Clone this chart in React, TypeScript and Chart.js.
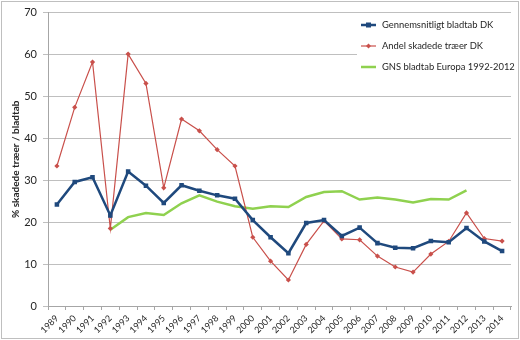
import React, { useEffect, useRef } from "react";
import { Chart, registerables } from "chart.js";

Chart.register(...registerables);

const years = ["1989","1990","1991","1992","1993","1994","1995","1996","1997","1998","1999","2000","2001","2002","2003","2004","2005","2006","2007","2008","2009","2010","2011","2012","2013","2014"];
const gennemsnitligtDK = [24.2,29.6,30.7,21.6,32.1,28.7,24.6,28.8,27.5,26.4,25.6,20.5,16.4,12.6,19.8,20.5,16.7,18.7,15.0,13.9,13.8,15.5,15.2,18.6,15.4,13.1];
const andelSkadedeDK = [33.4,47.4,58.2,18.5,60.1,53.1,28.2,44.6,41.8,37.3,33.4,16.4,10.7,6.2,14.7,20.3,16.0,15.8,11.9,9.3,8.1,12.4,15.4,22.2,16.1,15.5];
const europa = [null,null,null,18.2,21.2,22.2,21.7,24.5,26.4,24.9,23.8,23.2,23.8,23.6,26.0,27.2,27.4,25.4,25.9,25.4,24.7,25.5,25.4,27.6,null,null];
const seriesLabels = ["Gennemsnitligt bladtab DK","Andel skadede træer DK","GNS bladtab Europa 1992-2012"];
const yTitle = "% skadede træer / bladtab";

const BLUE = "#1F497D";
const RED = "#C9504B";
const GREEN = "#8FD14F";
const FONT = "Lato, 'Liberation Sans', sans-serif";

export default function App() {
  const ref = useRef<HTMLCanvasElement>(null);
  useEffect(() => {
    document.body.style.margin = "0";
    const frame = {
      id: "frame",
      beforeDraw(chart: any) {
        const c = chart.ctx;
        c.save();
        c.fillStyle = "#fff";
        c.fillRect(0, 0, chart.width, chart.height);
        c.strokeStyle = "#BFBFBF";
        c.lineWidth = 1;
        c.strokeRect(1.5, 1.5, chart.width - 3, chart.height - 3);
        c.restore();
      },
    };
    const legend = {
      id: "customLegend",
      afterDraw(chart: any) {
        const c = chart.ctx;
        c.save();
        c.fillStyle = "#fff";
        c.fillRect(357, 14, 155, 76);
        const rows = [25, 46, 67];
        chart.data.datasets.forEach((ds: any, i: number) => {
          const y = rows[i];
          c.strokeStyle = ds.borderColor;
          c.lineWidth = i === 1 ? 1.2 : 2.5;
          c.beginPath();
          c.moveTo(361, y);
          c.lineTo(376, y);
          c.stroke();
          if (i === 0) {
            c.fillStyle = ds.borderColor;
            c.fillRect(366, y - 2.5, 5, 5);
          } else if (i === 1) {
            c.fillStyle = ds.borderColor;
            c.beginPath();
            c.moveTo(368.5, y - 2.5);
            c.lineTo(371, y);
            c.lineTo(368.5, y + 2.5);
            c.lineTo(366, y);
            c.closePath();
            c.fill();
          }
          c.fillStyle = "#262626";
          c.font = `9.4px ${FONT}`;
          c.textBaseline = "middle";
          c.textAlign = "left";
          c.fillText(ds.label, 382, y);
        });
        c.restore();
      },
    };
    const chart = new Chart(ref.current!, {
      type: "line",
      data: {
        labels: years,
        datasets: [
          {
            label: seriesLabels[0],
            data: gennemsnitligtDK,
            borderColor: BLUE,
            backgroundColor: BLUE,
            borderWidth: 2.5,
            pointStyle: "rect",
            pointRadius: 3.2,
            pointBorderWidth: 0,
            tension: 0,
          },
          {
            label: seriesLabels[1],
            data: andelSkadedeDK,
            borderColor: RED,
            backgroundColor: RED,
            borderWidth: 1.2,
            pointStyle: "rectRot",
            pointRadius: 2.6,
            pointBorderWidth: 0,
            tension: 0,
          },
          {
            label: seriesLabels[2],
            data: europa,
            borderColor: GREEN,
            backgroundColor: GREEN,
            borderWidth: 2.5,
            pointRadius: 0,
            tension: 0,
            spanGaps: false,
          },
        ],
      },
      options: {
        responsive: false,
        animation: false,
        layout: { padding: { top: 10, right: 9, left: 0, bottom: 0 } },
        plugins: { legend: { display: false }, tooltip: { enabled: false } },
        scales: {
          x: {
            offset: true,
            grid: { offset: true, drawOnChartArea: false, drawTicks: true, tickLength: 4, color: "#A6A6A6" },
            border: { color: "#A6A6A6" },
            ticks: {
              minRotation: 45,
              maxRotation: 45,
              autoSkip: false,
              padding: 3,
              color: "#262626",
              font: { family: FONT, size: 9 },
            },
            afterFit(scale: any) {
              scale.height = 34;
            },
          },
          y: {
            min: 0,
            max: 70,
            ticks: { stepSize: 10, padding: 6, color: "#262626", font: { family: FONT, size: 11 } },
            grid: { color: "#BFBFBF", tickLength: 5 },
            border: { color: "#A6A6A6" },
            title: {
              display: true,
              text: yTitle,
              color: "#262626",
              font: { family: FONT, size: 10, weight: "bold" },
              padding: { top: 10, bottom: 4 },
            },
            afterFit(scale: any) {
              scale.width = 48;
            },
          },
        },
      },
      plugins: [frame, legend],
    });
    return () => chart.destroy();
  }, []);
  return <canvas ref={ref} width={520} height={340} style={{ display: "block" }} />;
}
